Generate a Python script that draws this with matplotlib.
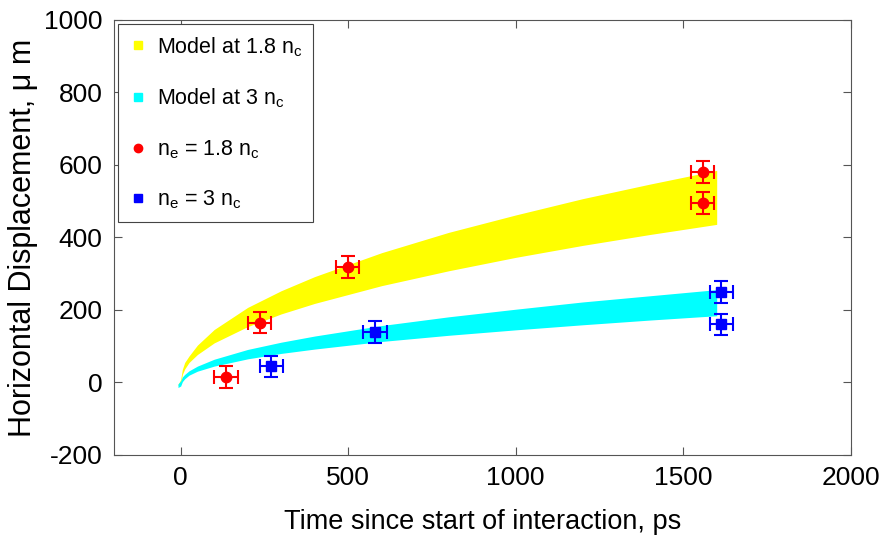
import matplotlib
matplotlib.use("Agg")
import matplotlib.pyplot as plt
from matplotlib.lines import Line2D

# model bands
t_model = [-8, 0, 5, 12, 25, 50, 100, 200, 300, 400, 600, 800, 1000, 1200, 1400, 1600]
y18_hi = [-6, 8, 36, 55, 73, 103, 146, 207, 253, 292, 358, 414, 462, 507, 547, 585]
y18_lo = [-8, -4, 22, 37, 55, 77, 109, 154, 189, 218, 267, 308, 345, 378, 408, 436]
y3_hi = [-4, 4, 15, 22, 32, 45, 64, 91, 111, 128, 157, 181, 202, 222, 239, 256]
y3_lo = [-14, -10, 2, 10, 20, 31, 45, 65, 80, 92, 113, 130, 145, 159, 172, 184]

# measurements
t_red = [135, 236, 498, 1558, 1558]
d_red = [14, 165, 319, 580, 495]
t_blue = [271, 580, 1614, 1614]
d_blue = [44, 140, 250, 160]
x_err = 35
y_err = 30

plt.rcParams['font.family'] = ['Liberation Sans', 'DejaVu Sans']
plt.rcParams['mathtext.fontset'] = 'custom'
plt.rcParams['mathtext.rm'] = 'Liberation Sans'
plt.rcParams['axes.unicode_minus'] = False

fig = plt.figure(figsize=(8.88, 5.39), dpi=100)
ax = fig.add_axes([0.128, 0.156, 0.830, 0.807])

ax.fill_between(t_model, y18_lo, y18_hi, color='#ffff00', lw=0)
ax.fill_between(t_model, y3_lo, y3_hi, color='#00ffff', lw=0)

ax.errorbar(t_red, d_red, xerr=x_err, yerr=y_err, fmt='o', color='red',
            ms=7.5, elinewidth=1.5, capsize=5, capthick=1.5)
ax.errorbar(t_blue, d_blue, xerr=x_err, yerr=y_err, fmt='s', color='blue',
            ms=7, elinewidth=1.5, capsize=5, capthick=1.5)

ax.set_xlim(-200, 2000)
ax.set_ylim(-200, 1000)
ax.set_xticks([0, 500, 1000, 1500, 2000])
ax.set_yticks([-200, 0, 200, 400, 600, 800, 1000])
ax.tick_params(direction='in', top=True, right=True, length=6, width=0.8,
               labelsize=19, color='#555555', pad=8)
for s in ax.spines.values():
    s.set_color('#555555')
    s.set_linewidth(0.8)

ax.set_xlabel('Time since start of interaction, ps', fontsize=19.5, labelpad=14)
ax.set_ylabel('Horizontal Displacement, \u03bc m', fontsize=22, labelpad=4)

handles = [
    Line2D([], [], ls='none', marker='s', color='#ffff00', ms=6),
    Line2D([], [], ls='none', marker='s', color='#00ffff', ms=6),
    Line2D([], [], ls='none', marker='o', color='red', ms=6),
    Line2D([], [], ls='none', marker='s', color='blue', ms=6),
]
labels = [r'Model at 1.8 n$_\mathregular{c}$', r'Model at 3 n$_\mathregular{c}$',
          r'n$_\mathregular{e}$ = 1.8 n$_\mathregular{c}$', r'n$_\mathregular{e}$ = 3 n$_\mathregular{c}$']
leg = ax.legend(handles, labels, loc='upper left', fontsize=15.5, frameon=True,
                fancybox=False, edgecolor='#444444', framealpha=1,
                borderaxespad=0.2, labelspacing=1.3, handletextpad=0.4,
                handlelength=0.9, borderpad=0.5)
leg.get_frame().set_linewidth(0.8)

fig.savefig('out.png', dpi=100)
